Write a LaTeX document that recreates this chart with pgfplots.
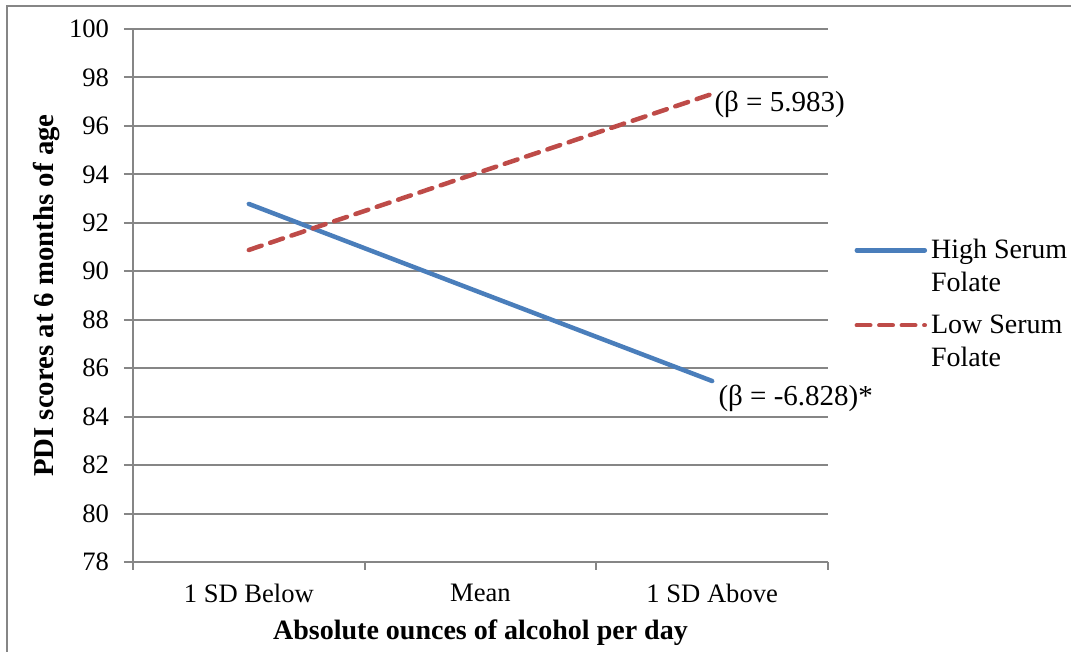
\documentclass[border=0pt]{standalone}
\usepackage{fontspec}
\setmainfont{Liberation Serif}
\usepackage{pgfplots}
\pgfplotsset{compat=1.18}
\definecolor{axgray}{RGB}{134,134,134}
\definecolor{hiblue}{RGB}{74,126,187}
\definecolor{lored}{RGB}{190,75,72}

\begin{document}
\begin{tikzpicture}[font=\fontsize{14}{16.5}\selectfont]
\useasboundingbox (0,0) rectangle (536pt,326pt);
% chart frame (left and top edges only are in the picture)
\draw[axgray, line width=1pt] (3.5pt,0) -- (3.5pt,323pt) -- (535.5pt,323pt);
\begin{axis}[
    at={(66.5pt,45pt)}, anchor=south west,
    scale only axis, width=347.5pt, height=266.5pt,
    xmin=0, xmax=3, ymin=78, ymax=100,
    ytick={78,80,...,100},
    xtick={0.5,1.5,2.5},
    xticklabels={1 SD Below, Mean, 1 SD Above},
    minor xtick={0,1,2,3},
    axis x line*=bottom, axis y line*=left,
    axis line style={axgray, line width=1pt, -},
    ymajorgrids, grid style={axgray, line width=1pt},
    tick align=outside,
    major tick length=4.5pt, minor tick length=4pt,
    y tick style={axgray, line width=1pt},
    minor x tick style={axgray, line width=1pt},
    major x tick style={draw=none},
    /pgf/number format/assume math mode=true,
    tick label style={font=\fontsize{13.3}{16}\selectfont},
    yticklabel style={xshift=-4pt},
    xticklabel style={yshift=-3pt},
    clip=false,
    xlabel={\bfseries Absolute ounces of alcohol per day},
    ylabel={\bfseries PDI scores at 6 months of age},
    every axis x label/.style={at={(axis description cs:0.5,-0.133)}, anchor=center},
    every axis y label/.style={at={(axis description cs:-0.124,0.5)}, rotate=90,
        anchor=center, font=\fontsize{14.4}{16.5}\selectfont},
    legend style={at={(1.029,0.484)}, anchor=west, draw=none, fill=none,
        nodes={align=left}, cells={anchor=west}, row sep=6pt},
    legend image code/.code={
        \path[draw=none] (0pt,-8.25pt) -- (0pt,8.25pt);
        \draw[#1] (0pt,8.25pt) -- (34pt,8.25pt);},
]
\addplot[hiblue, line width=2.25pt, line cap=round]
    coordinates {(0.5,92.78) (1.5,89.12) (2.5,85.47)};
\addlegendentry{High Serum\\Folate}
\addplot[lored, line width=2.25pt, line cap=round, dash pattern=on 6.75pt off 4.5pt]
    coordinates {(0.5,90.88) (1.5,94.10) (2.5,97.32)};
\addlegendentry{Low Serum\\Folate}
\node[anchor=west, inner sep=0pt, xshift=1pt, yshift=-5pt, font=\fontsize{14.5}{16.5}\selectfont]
    at (axis cs:2.5,97.32) {(β = 5.983)};
\node[anchor=west, inner sep=0pt, xshift=3pt, yshift=-8.5pt, font=\fontsize{14.5}{16.5}\selectfont]
    at (axis cs:2.5,85.47) {(β = -6.828)*};
\end{axis}
\end{tikzpicture}
\end{document}
